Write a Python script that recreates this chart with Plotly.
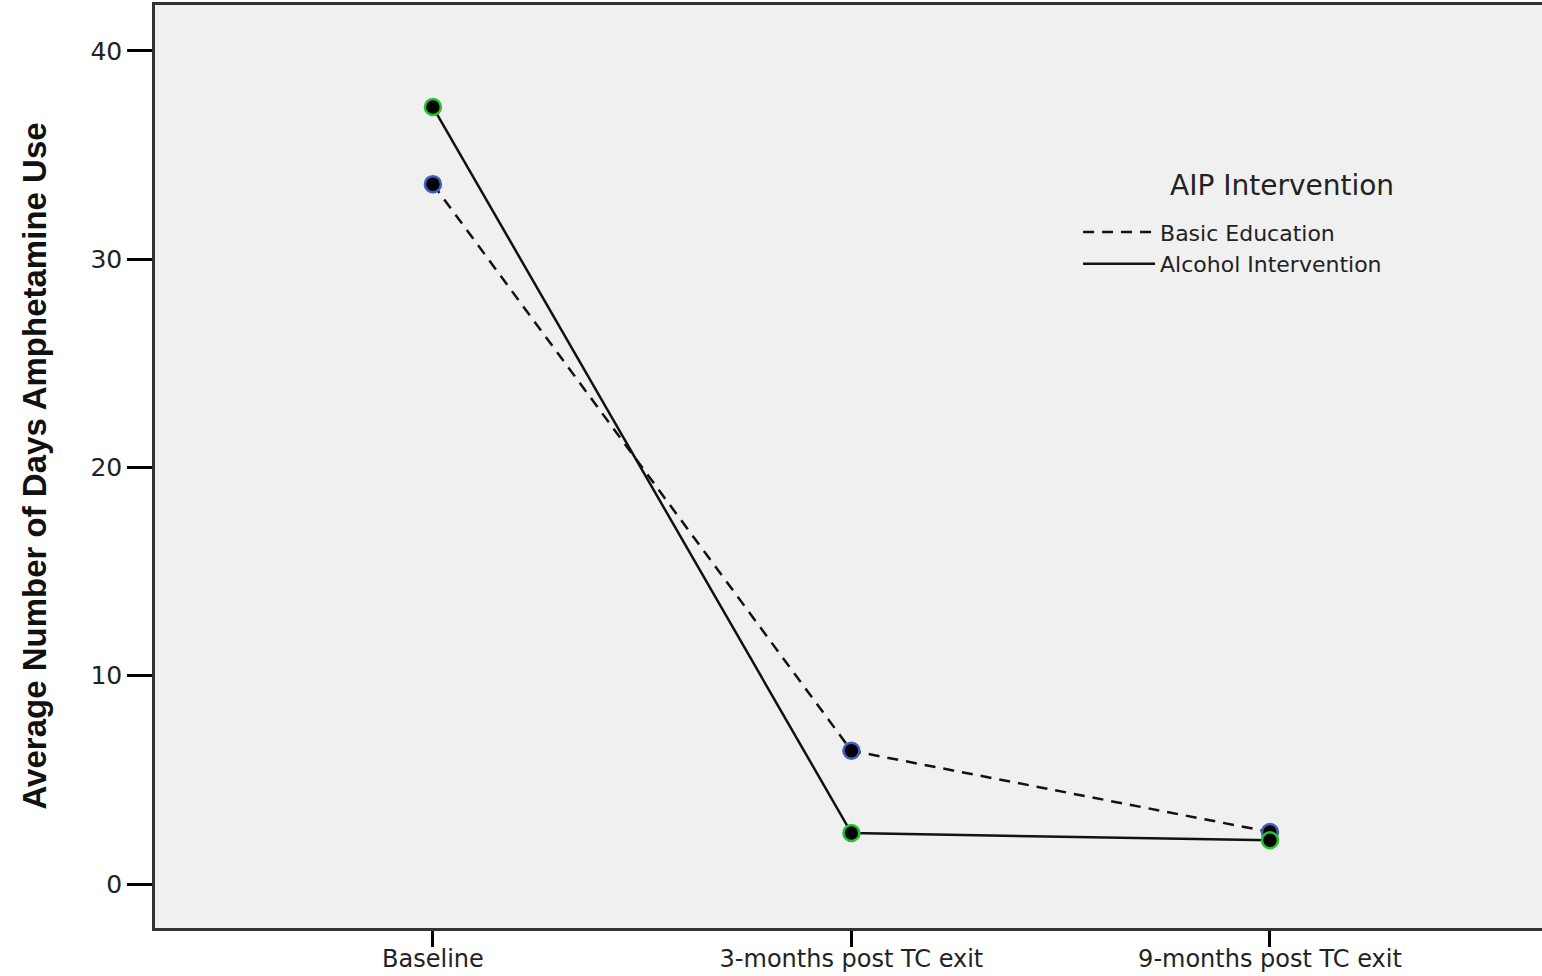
import plotly.graph_objects as go

categories = ["Baseline", "3-months post TC exit", "9-months post TC exit"]
basic_education = [33.6, 6.4, 2.5]
alcohol_intervention = [37.3, 2.45, 2.1]
y_ticks = [0, 10, 20, 30, 40]

fig = go.Figure()

series = [
    ("Basic Education", basic_education, "dash", "#3f5fc4"),
    ("Alcohol Intervention", alcohol_intervention, "solid", "#22c52a"),
]
dash_map = {"dash": "11px,8px", "solid": "solid"}
for name, vals, dash, mcol in series:
    fig.add_trace(go.Scatter(
        x=categories, y=vals, mode="lines", name=name,
        line=dict(color="#111111", width=2.5, dash=dash_map[dash]),
    ))
for name, vals, dash, mcol in series:
    fig.add_trace(go.Scatter(
        x=categories, y=vals, mode="markers", showlegend=False,
        marker=dict(color="black", size=16, line=dict(color=mcol, width=2.5)),
        hoverinfo="skip",
    ))

fig.update_layout(
    width=1542, height=976,
    margin=dict(l=155, r=0, t=5, b=48),
    plot_bgcolor="#f0f0f0", paper_bgcolor="white",
    font=dict(family="DejaVu Sans, Arial, sans-serif", color="#222222"),
    showlegend=True,
    legend=dict(
        x=0.6655, y=0.7765, xanchor="left", yanchor="top",
        bgcolor="rgba(0,0,0,0)",
        font=dict(size=22, family="DejaVu Sans, Arial, sans-serif", color="#222"),
        itemwidth=72, tracegroupgap=0,
    ),
    annotations=[
        dict(
            text="<b>Average Number of Days Amphetamine Use</b>",
            xref="paper", yref="paper", x=0, y=0.5, xshift=-121,
            xanchor="center", yanchor="middle", textangle=-90, showarrow=False,
            font=dict(size=33, family="Liberation Sans, Arial, sans-serif", color="#111"),
        ),
        dict(
            text="AIP Intervention",
            xref="paper", yref="paper", x=0.8125, y=0.804,
            xanchor="center", yanchor="middle", showarrow=False,
            font=dict(size=28, family="DejaVu Sans, Arial, sans-serif", color="#222"),
        ),
    ],
)

fig.update_xaxes(
    type="category", categoryorder="array", categoryarray=categories,
    range=[-0.664, 2.65], automargin=False,
    showline=True, linecolor="#333333", linewidth=2.5, mirror=True,
    ticks="outside", ticklen=16, tickwidth=3, tickcolor="black",
    ticklabelstandoff=-9,
    showgrid=False, zeroline=False,
    tickfont=dict(size=24, family="DejaVu Sans, Arial, sans-serif", color="#222"),
)
fig.update_yaxes(
    range=[-2.11, 42.2], automargin=False,
    tickvals=y_ticks,
    showline=True, linecolor="#333333", linewidth=2.5, mirror=True,
    ticks="outside", ticklen=25, tickwidth=3, tickcolor="black",
    showgrid=False, zeroline=False,
    tickfont=dict(size=25, family="DejaVu Sans, Arial, sans-serif", color="#222"),
)

fig.write_html(
    "out.html",
    config={"displayModeBar": False},
    post_script="document.body.style.margin='0';document.body.style.overflow='hidden';",
)
